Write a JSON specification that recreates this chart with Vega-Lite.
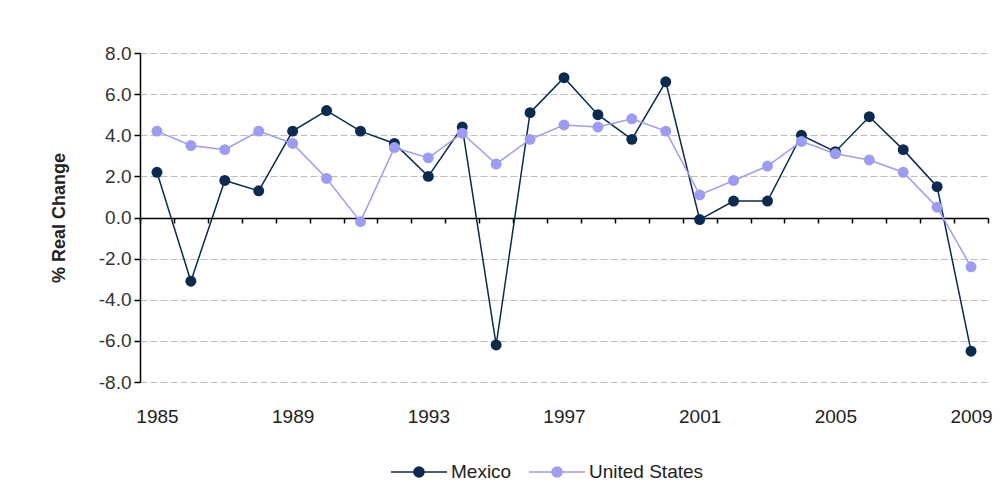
{
  "$schema": "https://vega.github.io/schema/vega-lite/v6.json",
  "width": 848,
  "height": 329,
  "autosize": {"type": "none"},
  "padding": {"left": 140, "top": 53, "right": 13, "bottom": 116},
  "background": "white",
  "config": {
    "font": "Liberation Sans",
    "view": {"stroke": null}
  },
  "data": {
    "values": [
      {"year": 1985, "country": "Mexico", "value": 2.2},
      {"year": 1986, "country": "Mexico", "value": -3.1},
      {"year": 1987, "country": "Mexico", "value": 1.8},
      {"year": 1988, "country": "Mexico", "value": 1.3},
      {"year": 1989, "country": "Mexico", "value": 4.2},
      {"year": 1990, "country": "Mexico", "value": 5.2},
      {"year": 1991, "country": "Mexico", "value": 4.2},
      {"year": 1992, "country": "Mexico", "value": 3.6},
      {"year": 1993, "country": "Mexico", "value": 2.0},
      {"year": 1994, "country": "Mexico", "value": 4.4},
      {"year": 1995, "country": "Mexico", "value": -6.2},
      {"year": 1996, "country": "Mexico", "value": 5.1},
      {"year": 1997, "country": "Mexico", "value": 6.8},
      {"year": 1998, "country": "Mexico", "value": 5.0},
      {"year": 1999, "country": "Mexico", "value": 3.8},
      {"year": 2000, "country": "Mexico", "value": 6.6},
      {"year": 2001, "country": "Mexico", "value": -0.1},
      {"year": 2002, "country": "Mexico", "value": 0.8},
      {"year": 2003, "country": "Mexico", "value": 0.8},
      {"year": 2004, "country": "Mexico", "value": 4.0},
      {"year": 2005, "country": "Mexico", "value": 3.2},
      {"year": 2006, "country": "Mexico", "value": 4.9},
      {"year": 2007, "country": "Mexico", "value": 3.3},
      {"year": 2008, "country": "Mexico", "value": 1.5},
      {"year": 2009, "country": "Mexico", "value": -6.5},
      {"year": 1985, "country": "United States", "value": 4.2},
      {"year": 1986, "country": "United States", "value": 3.5},
      {"year": 1987, "country": "United States", "value": 3.3},
      {"year": 1988, "country": "United States", "value": 4.2},
      {"year": 1989, "country": "United States", "value": 3.6},
      {"year": 1990, "country": "United States", "value": 1.9},
      {"year": 1991, "country": "United States", "value": -0.2},
      {"year": 1992, "country": "United States", "value": 3.4},
      {"year": 1993, "country": "United States", "value": 2.9},
      {"year": 1994, "country": "United States", "value": 4.1},
      {"year": 1995, "country": "United States", "value": 2.6},
      {"year": 1996, "country": "United States", "value": 3.8},
      {"year": 1997, "country": "United States", "value": 4.5},
      {"year": 1998, "country": "United States", "value": 4.4},
      {"year": 1999, "country": "United States", "value": 4.8},
      {"year": 2000, "country": "United States", "value": 4.2},
      {"year": 2001, "country": "United States", "value": 1.1},
      {"year": 2002, "country": "United States", "value": 1.8},
      {"year": 2003, "country": "United States", "value": 2.5},
      {"year": 2004, "country": "United States", "value": 3.7},
      {"year": 2005, "country": "United States", "value": 3.1},
      {"year": 2006, "country": "United States", "value": 2.8},
      {"year": 2007, "country": "United States", "value": 2.2},
      {"year": 2008, "country": "United States", "value": 0.5},
      {"year": 2009, "country": "United States", "value": -2.4}
    ]
  },
  "encoding": {
    "x": {
      "field": "year",
      "type": "ordinal",
      "scale": {"type": "band", "paddingInner": 0, "paddingOuter": 0},
      "axis": {
        "title": null,
        "offset": -164,
        "grid": false,
        "domainColor": "#000000",
        "domainWidth": 1.5,
        "tickColor": "#000000",
        "tickWidth": 1.5,
        "tickSize": 5,
        "tickBand": "extent",
        "labelAngle": 0,
        "labelPadding": 184,
        "labelOverlap": false,
        "labelFontSize": 19,
        "labelColor": "#222222",
        "labelExpr": "(datum.value - 1985) % 4 == 0 ? datum.label : ''"
      }
    },
    "y": {
      "field": "value",
      "type": "quantitative",
      "scale": {"domain": [-8, 8], "nice": false},
      "axis": {
        "title": "% Real Change",
        "titleFontSize": 18,
        "titleFontWeight": "bold",
        "titleColor": "#222222",
        "titlePadding": 30,
        "values": [-8, -6, -4, -2, 0, 2, 4, 6, 8],
        "labelExpr": "(datum.value < 0 ? '-' : '') + format(abs(datum.value), '.1f')",
        "labelFontSize": 19,
        "labelColor": "#333333",
        "labelPadding": 3,
        "domainColor": "#000000",
        "domainWidth": 1.5,
        "tickColor": "#000000",
        "tickWidth": 1.5,
        "tickSize": 6,
        "grid": true,
        "gridColor": "#bdbdbd",
        "gridDash": [7, 3],
        "gridWidth": 1
      }
    },
    "color": {
      "field": "country",
      "type": "nominal",
      "scale": {"domain": ["Mexico", "United States"], "range": ["#0b2a50", "#9d9cf2"]},
      "legend": {
        "title": null,
        "orient": "none",
        "legendX": 250,
        "legendY": 390,
        "direction": "horizontal",
        "symbolType": "M-1,0L1,0M-0.18,0A0.18,0.18,0,1,1,0.18,0A0.18,0.18,0,1,1,-0.18,0Z",
        "symbolSize": 3136,
        "symbolStrokeWidth": 1.5,
        "labelFontSize": 19,
        "labelColor": "#222222",
        "labelOffset": 3,
        "columnPadding": 14
      }
    }
  },
  "layer": [
    {"mark": {"type": "line", "strokeWidth": 1.5}},
    {"mark": {"type": "point", "filled": true, "size": 120, "opacity": 1}}
  ]
}
